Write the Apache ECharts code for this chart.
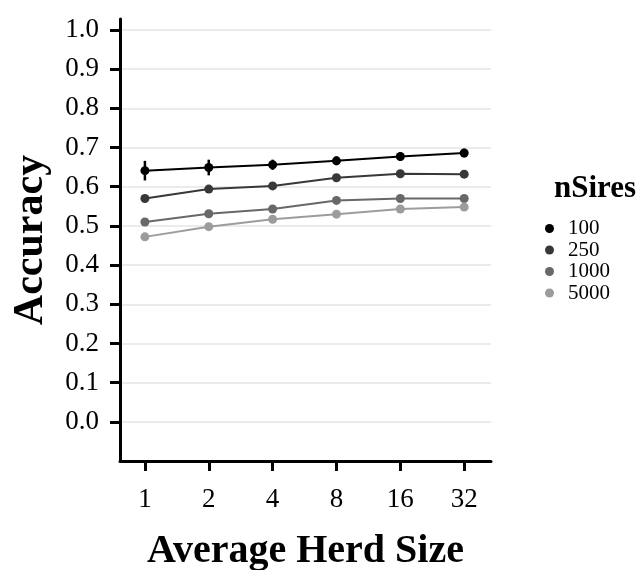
<!DOCTYPE html>
<html>
<head>
<meta charset="utf-8">
<script src="https://cdn.jsdelivr.net/npm/echarts@6/dist/echarts.min.js"></script>
<style>
  html, body { margin: 0; padding: 0; background: #ffffff; }
  #chart { width: 638px; height: 570px; }
</style>
</head>
<body>
<div id="chart"></div>
<script>
// Average herd size categories (x axis, evenly spaced on a log2 scale)
const herdSizes = ['1', '2', '4', '8', '16', '32'];

// Accuracy per number of sires
const seriesNames = ['100', '250', '1000', '5000'];
const acc100  = [0.641, 0.649, 0.656, 0.666, 0.677, 0.686];
const acc250  = [0.570, 0.594, 0.602, 0.623, 0.633, 0.632];
const acc1000 = [0.510, 0.531, 0.543, 0.565, 0.570, 0.570];
const acc5000 = [0.472, 0.498, 0.517, 0.530, 0.543, 0.548];

// Half-width of the uncertainty range around each mean
const err100  = [0.025, 0.020, 0.013, 0.011, 0.011, 0.011];
const err250  = [0.006, 0.006, 0.006, 0.006, 0.006, 0.006];
const err1000 = [0.005, 0.005, 0.005, 0.005, 0.005, 0.005];
const err5000 = [0.005, 0.005, 0.005, 0.005, 0.005, 0.005];

const yTicks = [0, 0.1, 0.2, 0.3, 0.4, 0.5, 0.6, 0.7, 0.8, 0.9, 1.0];

const colors = ['#000000', '#383838', '#686868', '#9c9c9c'];
const accs = [acc100, acc250, acc1000, acc5000];
const errs = [err100, err250, err1000, err5000];

const SERIF = '"Liberation Serif", "DejaVu Serif", serif';

const series = [];
accs.forEach((vals, s) => {
  // vertical range through each point
  series.push({
    type: 'custom',
    name: seriesNames[s] + '-range',
    silent: true,
    z: 3,
    data: vals.map((v, i) => [i, v - errs[s][i], v + errs[s][i]]),
    renderItem: (params, api) => {
      const x = api.value(0);
      const p1 = api.coord([x, api.value(1)]);
      const p2 = api.coord([x, api.value(2)]);
      return {
        type: 'line',
        shape: { x1: p1[0], y1: p1[1], x2: p2[0], y2: p2[1] },
        style: { stroke: colors[s], lineWidth: 2.5 }
      };
    }
  });
  // mean accuracy line with points
  series.push({
    type: 'line',
    name: seriesNames[s],
    z: 4,
    data: vals.map((v, i) => [i, v]),
    symbol: 'circle',
    symbolSize: 9,
    showSymbol: true,
    itemStyle: { color: colors[s] },
    lineStyle: { color: colors[s], width: 2 },
    emphasis: { disabled: true },
    animation: false
  });
});

const chart = echarts.init(document.getElementById('chart'), null, { renderer: 'canvas' });
chart.setOption({
  animation: false,
  backgroundColor: '#ffffff',
  grid: { left: 120, right: 147, top: 19, bottom: 109, containLabel: false, outerBoundsMode: 'none' },
  title: {
    text: 'nSires',
    left: 554,
    top: 173,
    padding: 0,
    textStyle: { fontFamily: SERIF, fontWeight: 'bold', fontSize: 31, color: '#000' }
  },
  legend: {
    data: seriesNames,
    orient: 'vertical',
    left: 545,
    top: 218,
    padding: 0,
    itemWidth: 9,
    itemHeight: 9,
    itemGap: 0.5,
    icon: 'circle',
    textStyle: { fontFamily: SERIF, fontSize: 21, lineHeight: 19, color: '#000', padding: [0, 0, 0, 9] }
  },
  xAxis: {
    type: 'value',
    min: -0.39,
    max: 5.42,
    axisLine: { show: true, onZero: false, lineStyle: { color: '#000', width: 3 } },
    axisTick: { show: true, length: 10, lineStyle: { color: '#000', width: 3 }, customValues: [0, 1, 2, 3, 4, 5] },
    axisLabel: {
      customValues: [0, 1, 2, 3, 4, 5],
      formatter: v => herdSizes[Math.round(v)],
      fontFamily: SERIF, fontSize: 27, color: '#000', margin: 25
    },
    splitLine: { show: false },
    name: 'Average Herd Size',
    nameLocation: 'middle',
    nameGap: 71,
    nameTextStyle: { fontFamily: SERIF, fontWeight: 'bold', fontSize: 40, color: '#000' }
  },
  yAxis: {
    type: 'value',
    min: -0.1,
    max: 1.028,
    axisLine: { show: true, onZero: false, lineStyle: { color: '#000', width: 3 } },
    axisTick: { show: true, length: 10, lineStyle: { color: '#000', width: 3 }, customValues: yTicks },
    axisLabel: {
      customValues: yTicks,
      formatter: v => v.toFixed(1),
      fontFamily: SERIF, fontSize: 27, color: '#000', margin: 21
    },
    splitLine: { show: true, lineStyle: { color: '#ebebeb', width: 2 } },
    name: 'Accuracy',
    nameLocation: 'middle',
    nameGap: 68,
    nameRotate: 90,
    nameTextStyle: { fontFamily: SERIF, fontWeight: 'bold', fontSize: 42, color: '#000' }
  },
  series: series
});
</script>
</body>
</html>
